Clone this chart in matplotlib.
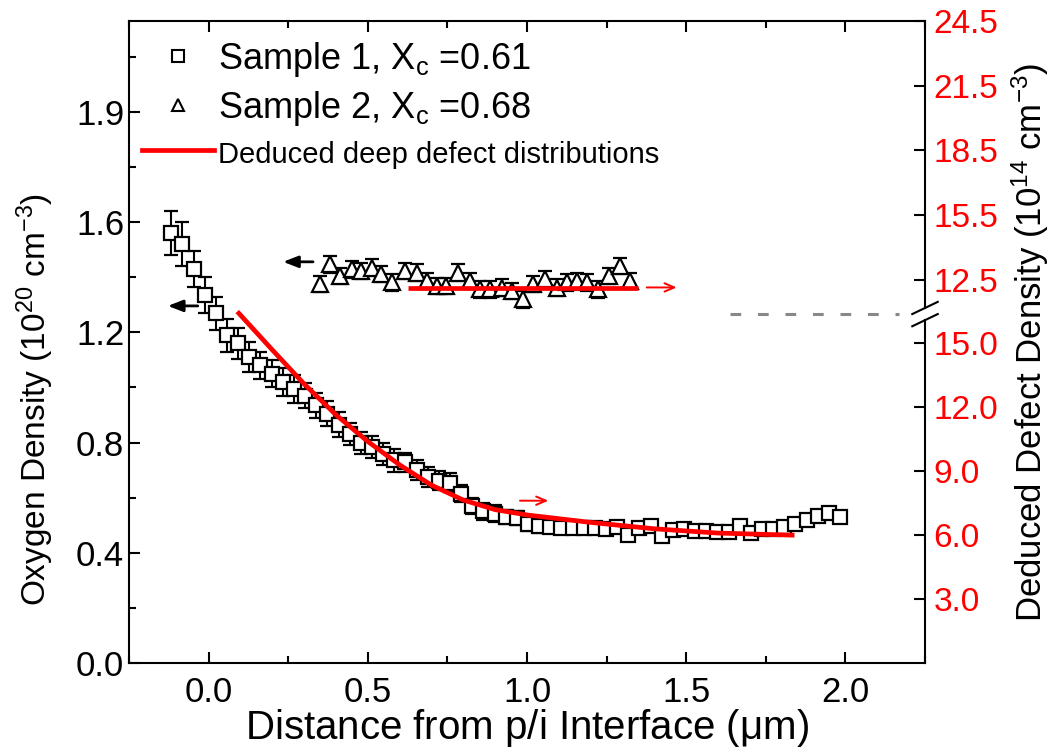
import matplotlib
matplotlib.use("Agg")
import matplotlib.pyplot as plt
from matplotlib.lines import Line2D

# ---------------- data ----------------
s1_x = [-0.117, -0.082, -0.047, -0.012, 0.023, 0.058, 0.093, 0.128, 0.163, 0.198,
        0.233, 0.268, 0.303, 0.338, 0.373, 0.408, 0.443, 0.478, 0.513, 0.548,
        0.583, 0.618, 0.653, 0.688, 0.723, 0.758, 0.793, 0.828, 0.863, 0.898,
        0.933, 0.968, 1.003, 1.038, 1.073, 1.108, 1.143, 1.178, 1.213, 1.248,
        1.283, 1.318, 1.353, 1.388, 1.423, 1.458, 1.493, 1.528, 1.563, 1.598,
        1.633, 1.668, 1.703, 1.738, 1.773, 1.808, 1.843, 1.878, 1.913, 1.948, 1.983]
s1_y = [1.56, 1.52, 1.43, 1.335, 1.27, 1.19, 1.16, 1.11, 1.08, 1.05,
        1.02, 0.995, 0.97, 0.935, 0.905, 0.865, 0.83, 0.80, 0.785, 0.76,
        0.735, 0.728, 0.70, 0.675, 0.662, 0.655, 0.615, 0.57, 0.55, 0.542,
        0.53, 0.525, 0.505, 0.497, 0.493, 0.49, 0.49, 0.49, 0.49, 0.487,
        0.493, 0.465, 0.49, 0.496, 0.46, 0.482, 0.486, 0.478, 0.478, 0.475,
        0.475, 0.497, 0.473, 0.487, 0.487, 0.493, 0.506, 0.518, 0.532, 0.545, 0.53]
s1_err = [0.08, 0.08, 0.065, 0.065, 0.06, 0.06, 0.055, 0.055, 0.05, 0.05,
          0.05, 0.05, 0.045, 0.045, 0.045, 0.045, 0.04, 0.04, 0.04, 0.04,
          0.04, 0.035, 0.035, 0.035, 0.035, 0.035, 0.03, 0.03, 0.03, 0.03,
          0.025, 0.025, 0.025, 0.025, 0.02, 0.02, 0.02, 0.02, 0.02, 0.02,
          0.02, 0.02, 0.02, 0.02, 0.02, 0.02, 0.02, 0.02, 0.02, 0.02,
          0.02, 0.02, 0.02, 0.02, 0.02, 0.02, 0.02, 0.02, 0.02, 0.02, 0.02]

s2_x = [0.349, 0.380, 0.412, 0.449, 0.480, 0.512, 0.543, 0.575, 0.616, 0.653,
        0.685, 0.716, 0.747, 0.784, 0.821, 0.852, 0.884, 0.920, 0.952, 0.988,
        1.020, 1.057, 1.093, 1.125, 1.156, 1.188, 1.224, 1.256, 1.292, 1.324]
s2_y = [1.375, 1.447, 1.405, 1.429, 1.423, 1.435, 1.411, 1.381, 1.423, 1.417,
        1.387, 1.369, 1.369, 1.417, 1.387, 1.356, 1.356, 1.362, 1.350, 1.320,
        1.375, 1.393, 1.362, 1.381, 1.387, 1.381, 1.356, 1.405, 1.441, 1.387]
s2_err = [0.03] * len(s2_x)

# deduced deep defect distributions (right axis, 10^14 cm^-3)
d1_x = [0.09, 0.2, 0.3, 0.4, 0.5, 0.6, 0.7, 0.8, 0.9, 1.0, 1.2, 1.4, 1.6, 1.84]
d1_y = [16.5, 14.7, 13.1, 11.65, 10.4, 9.3, 8.35, 7.65, 7.2, 6.95, 6.6, 6.3, 6.1, 6.0]
d2_x = [0.626, 0.9, 1.1, 1.35]
d2_y = [12.15, 12.15, 12.15, 12.15]

x_ticks = [0.0, 0.5, 1.0, 1.5, 2.0]
x_ticklabels = ["0.0", "0.5", "1.0", "1.5", "2.0"]
left_ticks = [0.0, 0.4, 0.8, 1.2, 1.6, 2.0]
left_ticklabels = ["0.0", "0.4", "0.8", "1.2", "1.6", "1.9"]
rlow_ticks = [3.0, 6.0, 9.0, 12.0, 15.0]
rlow_ticklabels = ["3.0", "6.0", "9.0", "12.0", "15.0"]
rup_ticks = [12.5, 15.5, 18.5, 21.5, 24.5]
rup_ticklabels = ["12.5", "15.5", "18.5", "21.5", "24.5"]
legend_labels = ["Sample 1, X$_{c}$ =0.61", "Sample 2, X$_{c}$ =0.68",
                 "Deduced deep defect distributions"]

FONT = ["Liberation Sans", "DejaVu Sans"]
plt.rcParams["font.family"] = FONT
plt.rcParams["mathtext.fontset"] = "custom"
plt.rcParams["mathtext.rm"] = "Liberation Sans"
plt.rcParams["mathtext.it"] = "Liberation Sans:italic"
plt.rcParams["mathtext.default"] = "regular"

fig = plt.figure(figsize=(10.58, 7.56), dpi=100)
ax = fig.add_axes([129 / 1058, 93 / 756, 796 / 1058, 642 / 756])

ax.errorbar(s1_x, s1_y, yerr=s1_err, fmt="s", ms=9.5, mfc="white", mec="black",
            mew=1.6, ecolor="black", elinewidth=1.5, capsize=5, capthick=1.5, zorder=3)
ax.errorbar(s2_x, s2_y, yerr=s2_err, fmt="^", ms=11, mfc="white", mec="black",
            mew=1.6, ecolor="black", elinewidth=1.5, capsize=5, capthick=1.5, zorder=3)

ax.set_xlim(-0.25, 2.25)
ax.set_ylim(0, 2.33)
ax.set_xticks(x_ticks)
ax.set_xticklabels(x_ticklabels)
ax.set_xticks([-0.25, 0.25, 0.75, 1.25, 1.75, 2.25], minor=True)
ax.set_yticks(left_ticks)
ax.set_yticklabels(left_ticklabels)
ax.set_yticks([0.2, 0.6, 1.0, 1.4, 1.8, 2.2], minor=True)
ax.tick_params(axis="both", which="major", direction="in", length=8, width=1.5,
               labelsize=25, top=True, right=False)
ax.tick_params(axis="both", which="minor", direction="in", length=5, width=1.5,
               top=True, right=False)
ax.tick_params(axis="x", pad=9)
ax.set_xlabel("Distance from p/i Interface ($\\mu$m)", fontsize=29, labelpad=-1)
ax.set_ylabel("Oxygen Density (10$^{20}$ cm$^{-3}$)", fontsize=24)
ax.yaxis.set_label_coords(-0.092, 0.41)
for s in ["left", "bottom", "top"]:
    ax.spines[s].set_linewidth(1.5)
ax.spines["right"].set_visible(False)

# ---- right axis: broken into lower and upper linear segments ----
axl = ax.twinx()
axl.set_ylim(0, 30.14)
axl.plot(d1_x, d1_y, color="red", lw=3.4, zorder=4, solid_capstyle="butt")
axl.set_yticks(rlow_ticks)
axl.set_yticklabels(rlow_ticklabels)
axu = ax.twinx()
axu.set_ylim(-5.25, 24.5)
axu.plot(d2_x, d2_y, color="red", lw=3.4, zorder=4, solid_capstyle="butt")
axu.set_yticks(rup_ticks)
axu.set_yticklabels(rup_ticklabels)
for a in (axl, axu):
    for s in a.spines.values():
        s.set_visible(False)
    a.tick_params(axis="y", which="major", direction="in", length=8, width=1.5,
                  labelsize=24, labelcolor="red", pad=6)
axl.set_ylabel("Deduced Defect Density (10$^{14}$ cm$^{-3}$)", fontsize=25, labelpad=8)

# right spine with break marks
yb_lo, yb_hi = 0.534, 0.553
ax.plot([1, 1], [0, yb_lo], transform=ax.transAxes, color="black", lw=1.5, clip_on=False)
ax.plot([1, 1], [yb_hi, 1], transform=ax.transAxes, color="black", lw=1.5, clip_on=False)
for yc in (yb_lo, yb_hi):
    ax.plot([1 - 0.016, 1 + 0.016], [yc - 0.0095, yc + 0.0095], transform=ax.transAxes,
            color="black", lw=1.5, clip_on=False)
ax.plot([1.638, 2.167], [1.265, 1.265], color="#888888", lw=2.2,
        dashes=(3.5, 5.5), zorder=2)

# arrows
black_arrow = dict(arrowstyle="-|>,head_length=0.9,head_width=0.35", color="black",
                   lw=2, shrinkA=0, shrinkB=0)
ax.annotate("", xy=(-0.128, 1.296), xytext=(-0.034, 1.296), arrowprops=black_arrow)
ax.annotate("", xy=(0.234, 1.456), xytext=(0.328, 1.456), arrowprops=black_arrow)
red_arrow = dict(arrowstyle="->,head_length=0.7,head_width=0.3", color="red",
                 lw=1.4, shrinkA=0, shrinkB=0)
ax.annotate("", xy=(1.067, 0.589), xytext=(0.978, 0.589), arrowprops=red_arrow)
ax.annotate("", xy=(1.47, 1.363), xytext=(1.376, 1.363), arrowprops=red_arrow)

# legend (marker-only proxies as in the reference)
h1 = Line2D([], [], ls="none", marker="s", ms=8, mfc="white", mec="black", mew=1.5)
h2 = Line2D([], [], ls="none", marker="^", ms=9, mfc="white", mec="black", mew=1.5)
h3 = Line2D([], [], color="red", lw=3.4)
leg = ax.legend([h1, h2, h3], legend_labels, loc="upper left",
                bbox_to_anchor=(0.0, 0.99), frameon=False, fontsize=26,
                handlelength=2.0, handletextpad=0.12, labelspacing=0.27,
                borderaxespad=0.1, borderpad=0.25)
leg.get_texts()[2].set_fontsize(21)

fig.savefig("out.png", dpi=100)
